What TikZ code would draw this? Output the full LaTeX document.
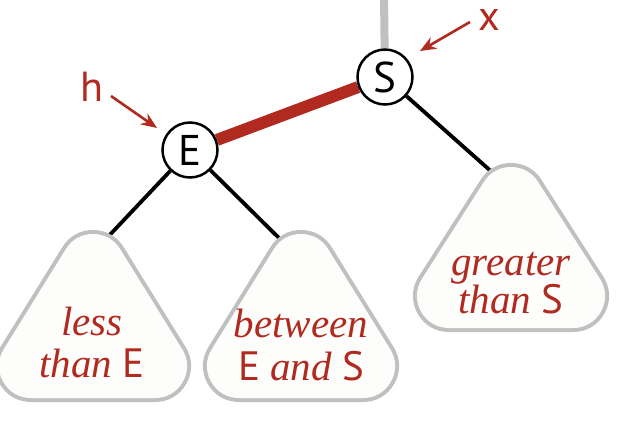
\documentclass[tikz,border=0pt]{standalone}
\usepackage{fontspec}
\setmainfont{Liberation Serif}
\newfontfamily\sansfam{PT Sans}
\usetikzlibrary{arrows.meta,backgrounds}
\definecolor{bookred}{RGB}{176,42,32}
\definecolor{treegray}{RGB}{192,192,192}
\definecolor{paper}{RGB}{253,253,251}
% #1 = centre x, #2 = visible top y, #3 = visible bottom y ; rounding radius 34
\newcommand\subtreeshape[3]{%
  \draw[subtreeout] (#1,#2+34) -- (#1-62,#3-34) -- (#1+62,#3-34) -- cycle;
  \draw[subtreein] (#1,#2+34) -- (#1-62,#3-34) -- (#1+62,#3-34) -- cycle;}
\begin{document}
\begin{tikzpicture}[x=1pt,y=-1pt,
  keynode/.style={circle, draw=black, line width=2.5pt, fill=white, minimum size=55pt, inner sep=0pt, font=\sansfam\fontsize{43}{43}\selectfont},
  subtreeout/.style={draw=treegray, fill=treegray, line width=72pt, line join=round},
  subtreein/.style={draw=paper, fill=paper, line width=64pt, line join=round},
  link/.style={line width=3.8pt, black},
  redlink/.style={line width=12pt, bookred},
  uplink/.style={line width=8pt, treegray},
  pointer/.style={bookred, line width=2.6pt, -{Stealth[length=16pt,width=13pt]}},
  ptrlabel/.style={bookred, inner sep=0pt, font=\sansfam\fontsize{42}{42}\selectfont},
  tlabel/.style={bookred, anchor=base, inner sep=0pt, font=\fontsize{41}{41}\selectfont\itshape},
]
\useasboundingbox (0,0) rectangle (618,426);
% subtrees
\subtreeshape{93}{232}{400}
\subtreeshape{301}{232}{400}
\subtreeshape{511}{165}{330}
\coordinate (ltop) at (105,240);
\coordinate (mtop) at (281,240);
\coordinate (rtop) at (493,173);
\coordinate (uptop) at (384,-5);
% keys
\node[keynode] (E) at (190,150) {E};
\node[keynode] (S) at (385,77) {S};
% subtree texts
\node[tlabel] (l1) at (92,335) {less};
\node[tlabel] (l2) at (92,377) {than {\sansfam\upshape E}};
\node[tlabel] (m1) at (301,337) {between};
\node[tlabel] (m2) at (301,380) {{\sansfam\upshape E} and {\sansfam\upshape S}};
\node[tlabel] (r1) at (511,275) {greater};
\node[tlabel] (r2) at (511,313) {than {\sansfam\upshape S}};
% pointers
\node[ptrlabel] (hlab) at (92,87) {h};
\node[ptrlabel] (xlab) at (489,20) {x};
\coordinate (hs) at (111,96);
\coordinate (he) at (157,128);
\coordinate (xs) at (470,22);
\coordinate (xe) at (420,51);
\draw[pointer] (hs) -- (he);
\draw[pointer] (xs) -- (xe);
\begin{pgfonlayer}{background}
\draw[uplink] (S) -- (uptop);
\draw[redlink] (E) -- (S);
\draw[link] (E) -- (ltop);
\draw[link] (E) -- (mtop);
\draw[link] (S) -- (rtop);
\end{pgfonlayer}
\end{tikzpicture}
\end{document}
